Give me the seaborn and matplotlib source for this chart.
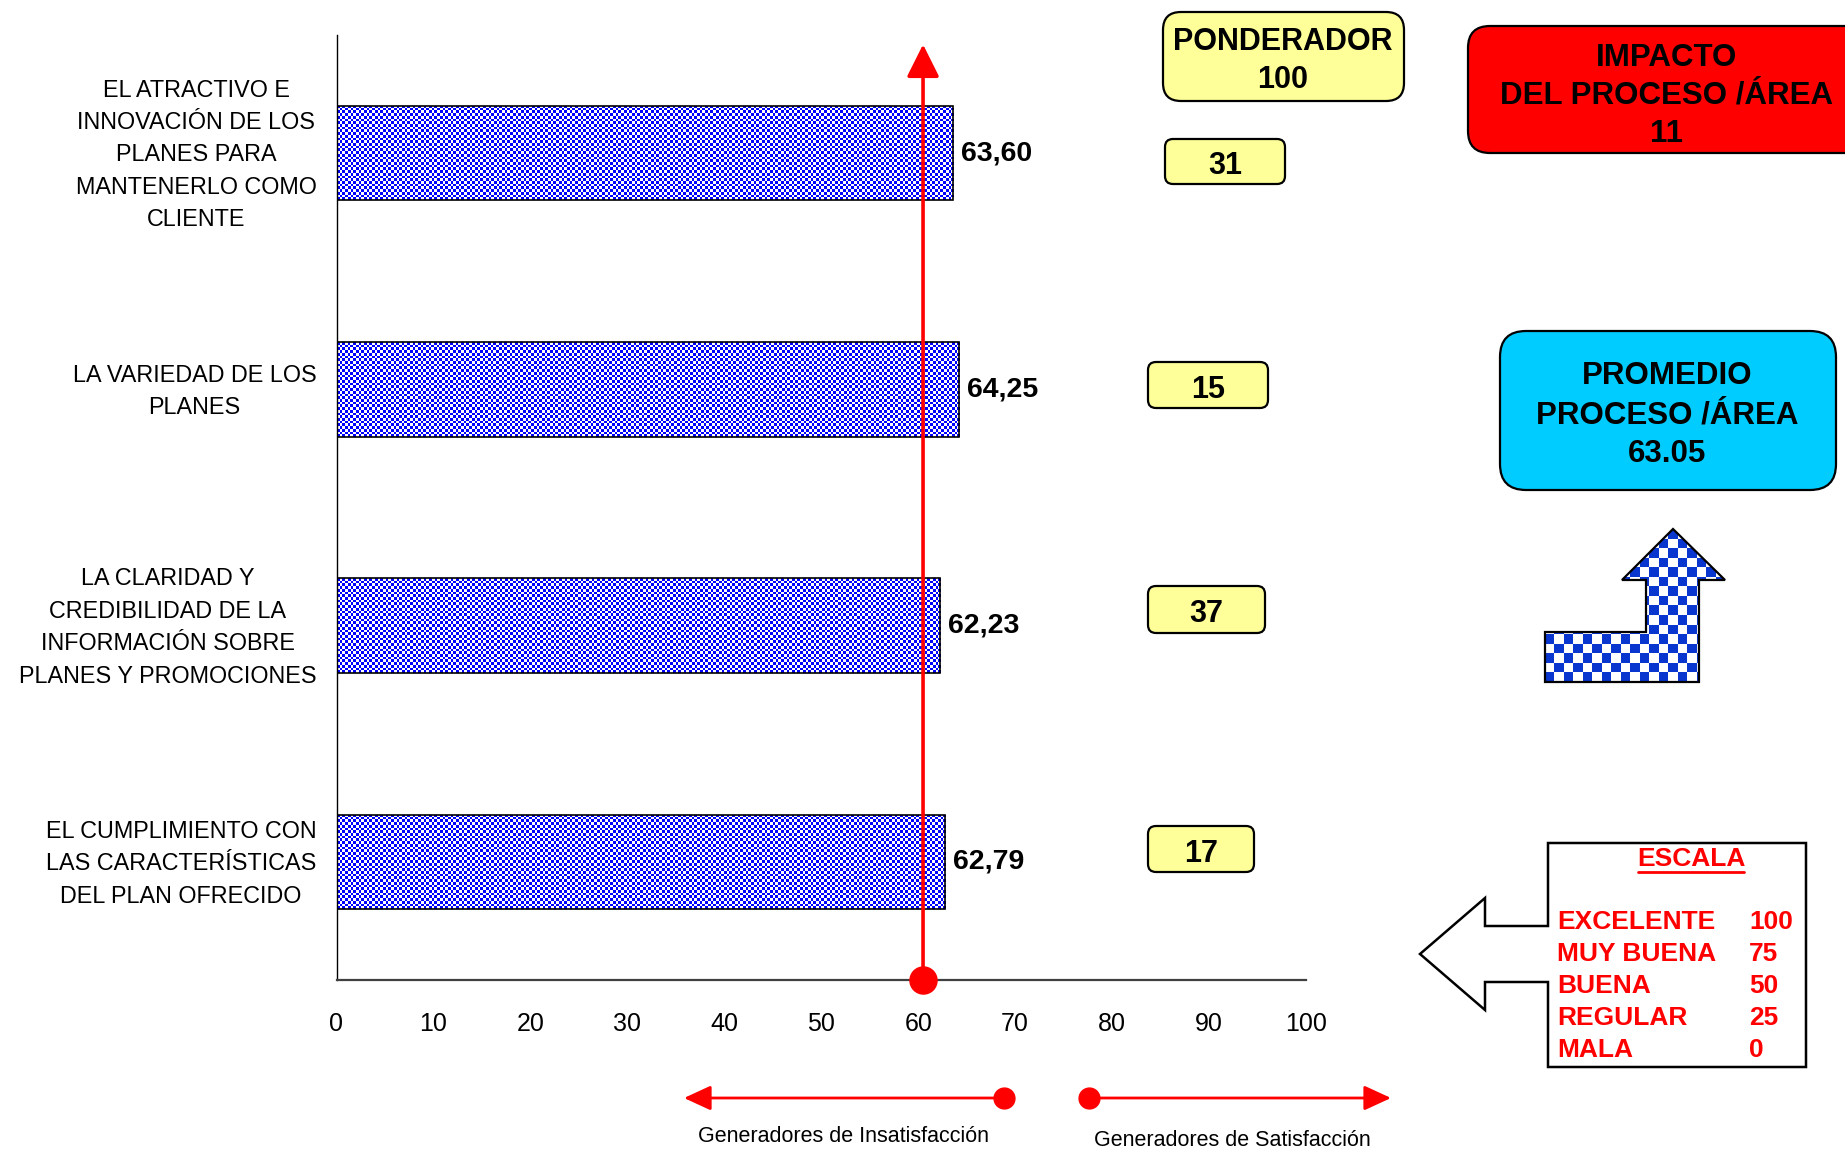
import numpy as np
import pandas as pd
import matplotlib
matplotlib.use("Agg")
import matplotlib.pyplot as plt
import matplotlib.transforms as mtransforms
from matplotlib import font_manager as fm
from matplotlib.patches import FancyBboxPatch, Polygon
from matplotlib.colors import ListedColormap
import seaborn as sns

# ---------------- data ----------------
categories = [
    "EL ATRACTIVO E\nINNOVACIÓN DE LOS\nPLANES PARA\nMANTENERLO COMO\nCLIENTE",
    "LA VARIEDAD DE LOS\nPLANES",
    "LA CLARIDAD Y\nCREDIBILIDAD DE LA\nINFORMACIÓN SOBRE\nPLANES Y PROMOCIONES",
    "EL CUMPLIMIENTO CON\nLAS CARACTERÍSTICAS\nDEL PLAN OFRECIDO",
]
scores = [63.60, 64.25, 62.23, 62.79]
weights = [31, 15, 37, 17]
x_ticks = [0, 10, 20, 30, 40, 50, 60, 70, 80, 90, 100]
threshold = 60.5
ponderador_total = 100
impacto_value = 11
promedio_value = "63.05"
scale_labels = ["EXCELENTE", "MUY BUENA", "BUENA", "REGULAR", "MALA"]
scale_values = [100, 75, 50, 25, 0]
bottom_labels = ["Generadores de Insatisfacción", "Generadores de Satisfacción"]

# ---------------- style ----------------
sns.set_style("white")
plt.rcParams["font.family"] = ["Liberation Sans", "DejaVu Sans"]
for key in ["text.color", "axes.labelcolor", "xtick.color", "ytick.color"]:
    plt.rcParams[key] = "black"


def _has_font(name):
    try:
        fm.findfont(fm.FontProperties(family=name), fallback_to_default=False)
        return True
    except Exception:
        return False


if _has_font("Liberation Sans Narrow"):
    NARROW = ["Liberation Sans Narrow", "DejaVu Sans"]
    cat_fs, tick_fs, val_fs, gen_fs = 20, 22, 24, 18
else:
    NARROW = ["Liberation Sans", "DejaVu Sans"]
    cat_fs, tick_fs, val_fs, gen_fs = 16.8, 18, 20.5, 15.5
BOLD = ["Liberation Sans", "DejaVu Sans"]

W, H = 1845, 1150
fig = plt.figure(figsize=(W / 100, H / 100), dpi=100)
L, R, T, B = 336.5, 1306, 35, 980
ax = fig.add_axes([L / W, 1 - B / H, (R - L) / W, (B - T) / H])

df = pd.DataFrame({"Aspecto": categories, "Puntaje": scores})
sns.barplot(data=df, x="Puntaje", y="Aspecto", orient="h", width=0.4,
            color="#0000FF", saturation=1, linewidth=0, ax=ax)
ax.set_xlim(0, 100)
ax.set_ylim(len(categories) - 0.5, -0.5)

# checkered texture clipped to each bar
px_per_x = (R - L) / 100.0
px_per_y = (B - T) / len(categories)
cell = 2.7
checker_cmap = ListedColormap(["#0000FF", "white"])
for p in list(ax.patches):
    x0, y0, w, h = p.get_x(), p.get_y(), p.get_width(), p.get_height()
    ncol = max(1, int(round(w * px_per_x / cell)))
    nrow = max(1, int(round(h * px_per_y / cell)))
    chk = np.add.outer(np.arange(nrow), np.arange(ncol)) % 2
    img = ax.imshow(chk, cmap=checker_cmap, extent=(x0, x0 + w, y0 + h, y0),
                    interpolation="nearest", aspect="auto", zorder=2.5)
    img.set_clip_path(p)

ypos = np.arange(len(categories))
ax.barh(ypos, df["Puntaje"], height=0.4, fill=False, edgecolor="black",
        linewidth=1.2, zorder=3)

ax.set_xlim(0, 100)
ax.set_ylim(len(categories) - 0.5, -0.5)
ax.set_aspect("auto")
ax.set_xlabel("")
ax.set_ylabel("")
ax.set_xticks(x_ticks)
ax.set_xticklabels([str(t) for t in x_ticks], fontsize=tick_fs, family=NARROW)
ax.set_yticks(np.arange(len(categories) + 1) - 0.5)
ax.set_yticklabels([])
ax.tick_params(axis="x", direction="out", length=7, width=1.2, pad=16, colors="black")
ax.tick_params(axis="y", direction="out", length=5, width=1.2, colors="black")
for s in ["top", "right"]:
    ax.spines[s].set_visible(False)
ax.spines["left"].set_color("black")
ax.spines["left"].set_linewidth(1.0)
ax.spines["bottom"].set_color("#404040")
ax.spines["bottom"].set_linewidth(1.6)

# value labels
for i, v in enumerate(scores):
    ax.text(v + 0.8, i, f"{v:.2f}".replace(".", ","), ha="left", va="center",
            fontsize=val_fs, fontweight="bold", family=NARROW, zorder=4)

# category labels: centred lines, block right-aligned next to axis
renderer = fig.canvas.get_renderer()
trans_lab = mtransforms.blended_transform_factory(ax.transAxes, ax.transData)
pad_px = 20
line_px = 32.4
for i, lab in enumerate(categories):
    lines = lab.split("\n")
    tmp = [ax.text(0, 0, ln, fontsize=cat_fs, family=NARROW) for ln in lines]
    bw = max(t.get_window_extent(renderer).width for t in tmp)
    for t in tmp:
        t.remove()
    cx_pt = -(pad_px + bw / 2) * 0.72
    n = len(lines)
    for j, ln in enumerate(lines):
        dy_pt = ((n - 1) / 2 - j) * line_px * 0.72 - 0.358 * cat_fs
        ax.annotate(ln, xy=(0, i), xycoords=trans_lab, xytext=(cx_pt, dy_pt),
                    textcoords="offset points", ha="center", va="baseline",
                    fontsize=cat_fs, family=NARROW, annotation_clip=False)

# red threshold arrow
trans_thr = mtransforms.blended_transform_factory(ax.transData, ax.transAxes)
ax.annotate("", xy=(threshold, 0.99), xycoords=trans_thr,
            xytext=(threshold, 0.0), textcoords=trans_thr,
            arrowprops=dict(arrowstyle="-|>,head_length=2.0,head_width=1.0",
                            color="red", lw=2.6, shrinkA=0, shrinkB=0,
                            mutation_scale=10),
            annotation_clip=False, zorder=6)
ax.plot([threshold], [0], marker="o", ms=19.5, color="red",
        transform=trans_thr, clip_on=False, zorder=7)

# ---------------- overlay (pixel coordinates) ----------------
ov = fig.add_axes([0, 0, 1, 1])
ov.set_zorder(5)
ov.set_xlim(0, W)
ov.set_ylim(H, 0)
ov.axis("off")


def rbox(x0, y0, x1, y1, fc, r, lw=1.6):
    p = FancyBboxPatch((x0, y0), x1 - x0, y1 - y0,
                       boxstyle=f"round,pad=0,rounding_size={r}",
                       fc=fc, ec="black", lw=lw, clip_on=False)
    ov.add_patch(p)
    return p


def lines_text(cx, ys, text, size):
    for yy, ln in zip(ys, text.split("\n")):
        ov.text(cx, yy, ln, ha="center", va="center_baseline", fontsize=size,
                fontweight="bold", family=BOLD)


YELLOW = "#FFFF99"
# ponderador header
rbox(1163, 12, 1404, 101, YELLOW, 18)
lines_text(1283, [39, 76], f"PONDERADOR\n{ponderador_total}", 22)

# weight boxes
weight_boxes = [(1165, 139, 1285, 184), (1148, 362, 1268, 408),
                (1148, 586, 1265, 633), (1148, 826, 1254, 872)]
for wv, (x0, y0, x1, y1) in zip(weights, weight_boxes):
    rbox(x0, y0, x1, y1, YELLOW, 8)
    ov.text((x0 + x1) / 2, (y0 + y1) / 2 + 1, str(wv), ha="center",
            va="center_baseline", fontsize=22, fontweight="bold", family=BOLD)

# impacto box
rbox(1468, 26, 1905, 153, "#FF0000", 22)
lines_text(1667, [54, 92, 130], f"IMPACTO\nDEL PROCESO /ÁREA\n{impacto_value}", 22.5)

# promedio box
rbox(1500, 331, 1836, 490, "#00CCFF", 26)
lines_text(1667, [373, 412, 450], f"PROMEDIO\nPROCESO /ÁREA\n{promedio_value}", 22.5)

# bent checkered arrow
bent = [(1545, 682), (1699, 682), (1699, 580), (1725, 580), (1673, 529),
        (1622, 580), (1646, 580), (1646, 632), (1545, 632)]
clip_poly = Polygon(bent, closed=True, fc="none", ec="none")
ov.add_patch(clip_poly)
checker = np.add.outer(np.arange(16), np.arange(19)) % 2
im = ov.imshow(checker, cmap=ListedColormap(["white", "#0A36D0"]),
               extent=(1545, 1725, 682, 529), interpolation="nearest",
               aspect="auto", zorder=2)
im.set_clip_path(clip_poly)
ov.add_patch(Polygon(bent, closed=True, fill=False, ec="black", lw=1.6, zorder=3))
ov.set_xlim(0, W)
ov.set_ylim(H, 0)

# escala box with left arrow
esc = [(1548, 843), (1806, 843), (1806, 1067), (1548, 1067), (1548, 982),
       (1485, 982), (1485, 1010), (1420, 954), (1485, 898), (1485, 926),
       (1548, 926)]
ov.add_patch(Polygon(esc, closed=True, fc="white", ec="black", lw=1.8))
t_esc = ov.text(1691, 859, "ESCALA", ha="center", va="center", color="red",
                fontsize=19, fontweight="bold", family=BOLD)
for k, (lab, val) in enumerate(zip(scale_labels, scale_values)):
    yy = 922 + k * 32
    ov.text(1557, yy, lab, ha="left", va="center", color="red", fontsize=19,
            fontweight="bold", family=BOLD)
    ov.text(1749, yy, str(val), ha="left", va="center", color="red", fontsize=19,
            fontweight="bold", family=BOLD)
fig.canvas.draw()
bb = t_esc.get_window_extent(fig.canvas.get_renderer())
inv = ov.transData.inverted()
(ux0, _), (ux1, _) = inv.transform([[bb.x0, bb.y0], [bb.x1, bb.y1]])
ov.plot([ux0 + 1, ux1 - 1], [872, 872], color="red", lw=2)

# bottom satisfaction arrows
ov.annotate("", xy=(684, 1098), xytext=(1004, 1098),
            arrowprops=dict(arrowstyle="-|>,head_length=1.65,head_width=0.76",
                            color="red", lw=2, shrinkA=0, shrinkB=0,
                            mutation_scale=10))
ov.plot([1004], [1098], "o", ms=15, color="red")
ov.annotate("", xy=(1391, 1098), xytext=(1089, 1098),
            arrowprops=dict(arrowstyle="-|>,head_length=1.65,head_width=0.76",
                            color="red", lw=2, shrinkA=0, shrinkB=0,
                            mutation_scale=10))
ov.plot([1089], [1098], "o", ms=15, color="red")
ov.text(844, 1137, bottom_labels[0], ha="center", va="center", fontsize=gen_fs,
        family=NARROW)
ov.text(1232, 1140, bottom_labels[1], ha="center", va="center", fontsize=gen_fs,
        family=NARROW)

fig.savefig("out.png", dpi=100)
